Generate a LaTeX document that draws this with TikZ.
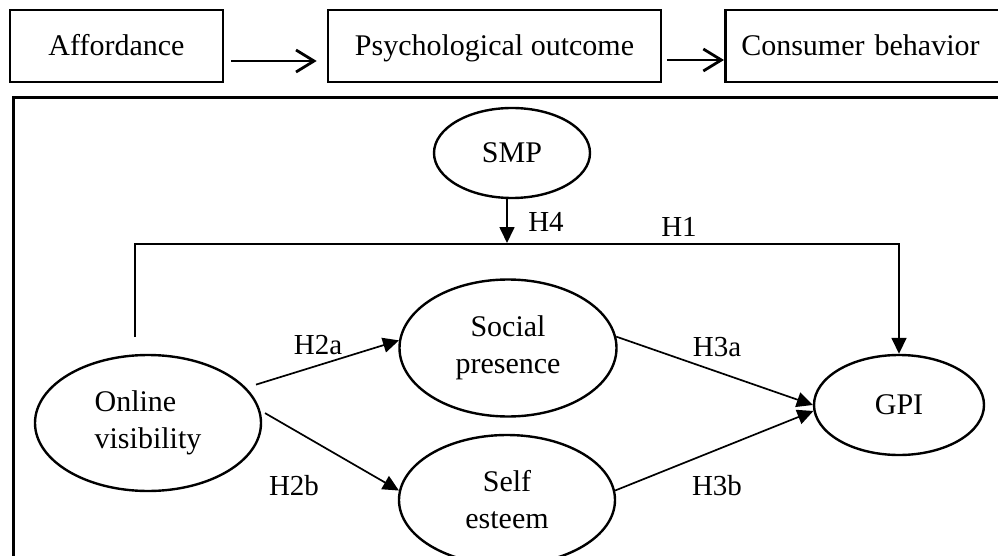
\documentclass[tikz,border=0pt]{standalone}
\usepackage{fontspec}
\setmainfont{Liberation Serif}
\usetikzlibrary{shapes.geometric,arrows.meta}
\begin{document}
\begin{tikzpicture}[x=1pt,y=-1pt,
  topbox/.style={draw, line width=2.6pt, minimum height=72pt, inner sep=0pt, text height=24pt, text depth=4pt, font=\fontsize{30}{36}\selectfont},
  latent/.style={draw, ellipse, line width=2.4pt, inner sep=0pt, align=center, font=\fontsize{30}{37}\selectfont},
  hyp/.style={font=\fontsize{29}{36}\selectfont, inner sep=0pt},
  openarr/.style={line width=2.8pt, -{Straight Barb[length=18pt,width=22pt,line width=2.8pt]}},
  link/.style={line width=1.7pt, -{Triangle[length=16pt,width=15pt]}},
]
\useasboundingbox (0,0) rectangle (998,556);
\clip (0,0) rectangle (998,556);
\fill[white] (0,0) rectangle (998,556);

% top row
\node[topbox, minimum width=213pt] (aff) at (116.5,46) {Affordance};
\node[topbox, minimum width=333pt] (psy) at (494.5,46) {Psychological outcome};
\node[topbox, anchor=west, text width=260pt, inner xsep=16pt, align=left] (con) at (724,46) {Consumer behavior};
\draw[openarr] ([shift={(7,15)}]aff.east) -- ([shift={(-10,15)}]psy.west);
\draw[openarr] ([shift={(5,14)}]psy.east) -- ([shift={(0,14)}]con.west);

% frame
\draw[line width=3pt] (13,98) rectangle (1020,590);

% constructs
\node[latent, minimum width=156pt, minimum height=90pt] (smp) at (512,153) {SMP};
\node[latent, minimum width=226pt, minimum height=136pt, align=left] (onl) at (148,423) {Online\\visibility};
\node[latent, minimum width=217pt, minimum height=137pt] (soc) at (508,348) {Social\\presence};
\node[latent, minimum width=216pt, minimum height=130pt] (slf) at (507,500) {Self\\esteem};
\node[latent, minimum width=170pt, minimum height=100pt] (gpi) at (899,405) {GPI};

% hypothesis labels
\node[hyp] (h4) at (546,222) {H4};
\node[hyp] (h1) at (679,227) {H1};
\node[hyp] (h2a) at (318,345) {H2a};
\node[hyp] (h2b) at (294,486) {H2b};
\node[hyp] (h3a) at (717,347) {H3a};
\node[hyp] (h3b) at (717,486) {H3b};

% connectors
\coordinate (h1start) at (135,337);
\coordinate (h1top) at (135,244);
\draw[link] (h1start) -- (h1top) -| (gpi.north);
\coordinate (h4end) at (507,243);
\draw[link] ([xshift=-5pt]smp.south) -- (h4end);
\draw[link] ([xshift=13pt]onl.22) -- (soc.176);
\draw[link] ([xshift=4pt]onl.5) -- (slf.175);
\draw[link] (soc.6) -- (gpi.west);
\draw[link] (slf.5) -- (gpi.184);
\end{tikzpicture}
\end{document}
